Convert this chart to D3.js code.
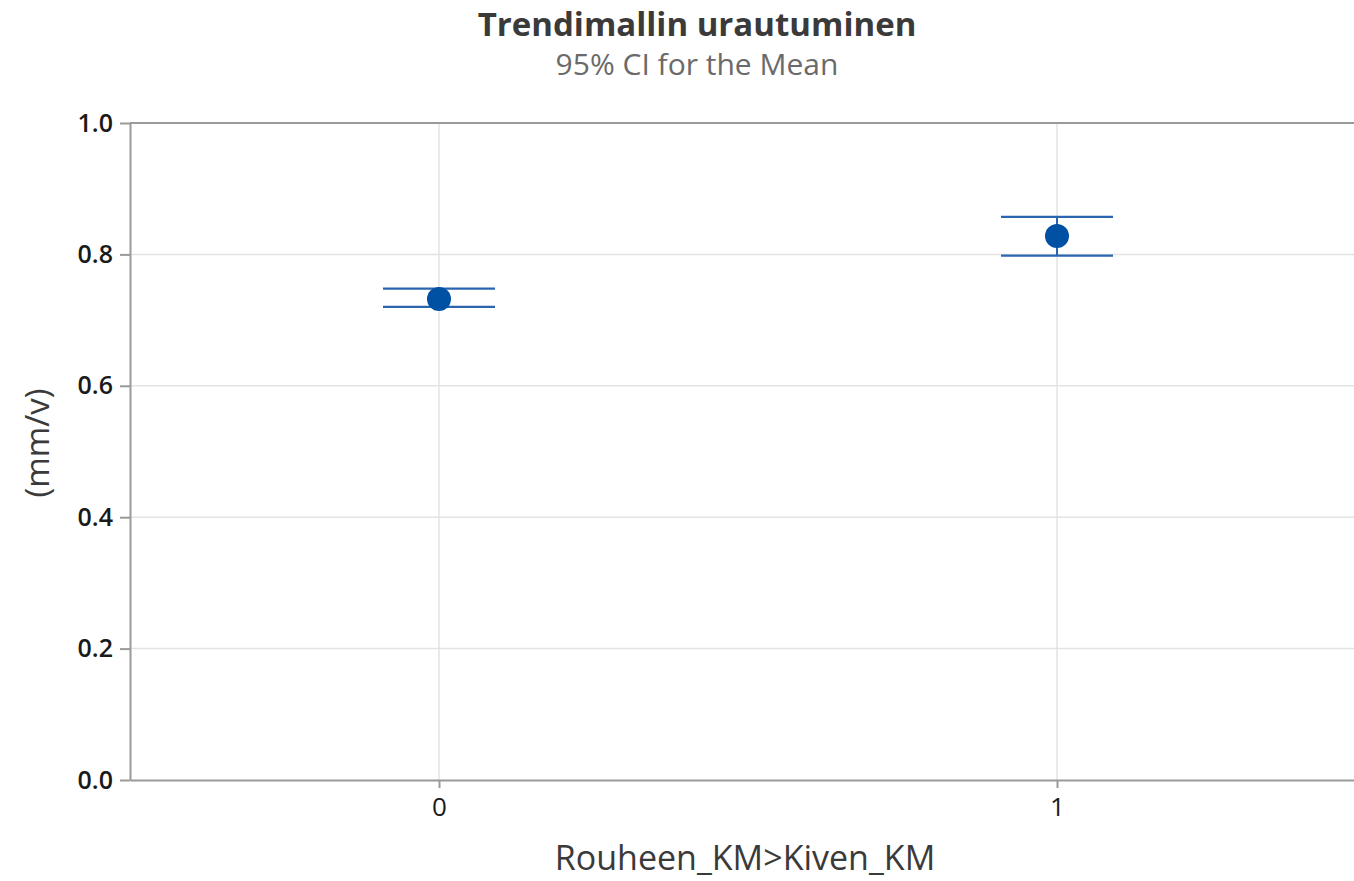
<!DOCTYPE html>
<html>
<head>
<meta charset="utf-8">
<script src="https://cdn.jsdelivr.net/npm/d3@7"></script>
<style>
  html, body { margin: 0; padding: 0; background: #fff; overflow: hidden; }
  svg { display: block; }
  svg text { font-family: "Open Sans", "Noto Sans", sans-serif; }
</style>
</head>
<body>
<svg id="chart" width="1354" height="881"></svg>
<script>
// Interval plot: mean with 95% confidence interval per group
const categories = ["0", "1"];
const means = [0.732, 0.828];
const ciLower = [0.720, 0.798];
const ciUpper = [0.748, 0.857];
const yTicks = [0.0, 0.2, 0.4, 0.6, 0.8, 1.0];

const svg = d3.select("#chart");
const margin = { left: 130, top: 123, right: -12, bottom: 101 };
const W = 1354, H = 881;
const plotW = W - margin.left - margin.right;
const plotH = H - margin.top - margin.bottom;

const x = d3.scalePoint().domain(categories).range([0, plotW]).padding(0.5);
const y = d3.scaleLinear().domain([0, 1]).range([plotH, 0]);

const g = svg.append("g").attr("transform", `translate(${margin.left},${margin.top})`);

// gridlines
g.append("g").selectAll("line").data(yTicks.slice(1, -1)).join("line")
  .attr("x1", 0).attr("x2", plotW)
  .attr("y1", d => y(d)).attr("y2", d => y(d))
  .attr("stroke", "#e3e3e3").attr("stroke-width", 1.5);
g.append("g").selectAll("line").data(categories).join("line")
  .attr("x1", d => x(d)).attr("x2", d => x(d))
  .attr("y1", 0).attr("y2", plotH)
  .attr("stroke", "#e3e3e3").attr("stroke-width", 1.5);

// top edge of the frame
g.append("line").attr("x1", 0).attr("x2", plotW).attr("y1", 0).attr("y2", 0)
  .attr("stroke", "#9a9a9a").attr("stroke-width", 2);

// y axis
const yAxis = d3.axisLeft(y).tickValues(yTicks).tickFormat(d3.format(".1f"))
  .tickSize(10).tickSizeOuter(0).tickPadding(7);
const ya = g.append("g").call(yAxis).attr("font-family", null).attr("font-size", null);
ya.select(".domain").attr("stroke", "#9a9a9a").attr("stroke-width", 2);
ya.selectAll(".tick line").attr("stroke", "#9a9a9a").attr("stroke-width", 2);
ya.selectAll(".tick text").attr("fill", "#1a1a1a").style("font-size", "25px").style("font-weight", 600);

// x axis
const xAxis = d3.axisBottom(x).tickSize(8).tickSizeOuter(0).tickPadding(10);
const xa = g.append("g").attr("transform", `translate(0,${plotH})`).call(xAxis)
  .attr("font-family", null).attr("font-size", null);
xa.select(".domain").attr("stroke", "#9a9a9a").attr("stroke-width", 2);
xa.selectAll(".tick line").attr("stroke", "#9a9a9a").attr("stroke-width", 2);
xa.selectAll(".tick text").attr("fill", "#1a1a1a").style("font-size", "26px").style("font-weight", 400);

// intervals
const capHalf = 56;
const data = categories.map((c, i) => ({ c, m: means[i], lo: ciLower[i], hi: ciUpper[i] }));
const iv = g.append("g").selectAll("g").data(data).join("g");
iv.append("line")
  .attr("x1", d => x(d.c)).attr("x2", d => x(d.c))
  .attr("y1", d => y(d.hi)).attr("y2", d => y(d.lo))
  .attr("stroke", "#2a66b0").attr("stroke-width", 2);
iv.append("line")
  .attr("x1", d => x(d.c) - capHalf).attr("x2", d => x(d.c) + capHalf)
  .attr("y1", d => y(d.hi)).attr("y2", d => y(d.hi))
  .attr("stroke", "#2a66b0").attr("stroke-width", 2.2);
iv.append("line")
  .attr("x1", d => x(d.c) - capHalf).attr("x2", d => x(d.c) + capHalf)
  .attr("y1", d => y(d.lo)).attr("y2", d => y(d.lo))
  .attr("stroke", "#2a66b0").attr("stroke-width", 2.2);
iv.append("circle")
  .attr("cx", d => x(d.c)).attr("cy", d => y(d.m)).attr("r", 12)
  .attr("fill", "#0050a4");

// titles
svg.append("text").attr("x", 697).attr("y", 36).attr("text-anchor", "middle")
  .attr("fill", "#3a3a3a").style("font-size", "33px").style("font-weight", 700)
  .text("Trendimallin urautuminen");
svg.append("text").attr("x", 697).attr("y", 75).attr("text-anchor", "middle")
  .attr("fill", "#6a6a6a").style("font-size", "30px")
  .text("95% CI for the Mean");

// axis titles
svg.append("text").attr("x", 745).attr("y", 870).attr("text-anchor", "middle")
  .attr("fill", "#3a3a3a").style("font-size", "34px")
  .text("Rouheen_KM>Kiven_KM");
svg.append("text").attr("transform", "translate(49,443) rotate(-90)").attr("text-anchor", "middle")
  .attr("fill", "#3a3a3a").style("font-size", "33px")
  .text("(mm/v)");
</script>
</body>
</html>
